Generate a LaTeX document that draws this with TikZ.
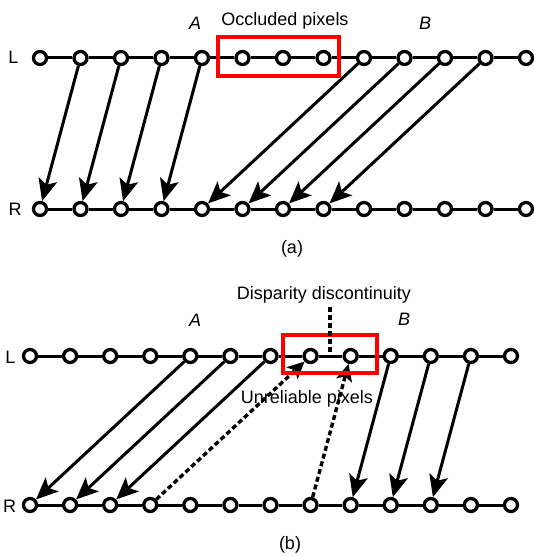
\documentclass[tikz,border=0pt]{standalone}
\usepackage{fontspec}
\setmainfont{Liberation Sans}
\usetikzlibrary{arrows.meta}
\begin{document}
\begin{tikzpicture}[x=1pt,y=-1pt,
  pix/.style={circle,draw,line width=3.3pt,fill=white,minimum size=13pt,inner sep=0pt},
  link/.style={line width=3pt},
  map/.style={line width=3pt,-{Stealth[length=22pt,width=19pt,inset=5pt]}},
  unrel/.style={line width=3.4pt,dash pattern=on 5pt off 3pt,-{Stealth[length=17pt,width=16pt,inset=4pt]}},
  disc/.style={line width=3.4pt,dash pattern=on 5pt off 3pt},
  lbl/.style={font=\fontsize{18}{21}\selectfont,inner sep=0pt,anchor=base},
  box/.style={draw=red,line width=3.2pt}]
\useasboundingbox (0,0) rectangle (534,556);

% ---------- (a) ----------
\foreach \i in {0,...,12} {
  \node[pix] (aL\i) at ({40+40.5*\i},58) {};
  \node[pix] (aR\i) at ({40+40.5*\i},209) {};
}
\foreach \i [evaluate=\i as \j using int(\i+1)] in {0,...,11} {
  \draw[link] (aL\i) -- (aL\j);
  \draw[link] (aR\i) -- (aR\j);
}
% region A: disparity of one pixel
\foreach \i [evaluate=\i as \j using int(\i-1)] in {1,...,4}
  \draw[map] (aL\i) -- (aR\j);
% region B: disparity of four pixels
\foreach \i [evaluate=\i as \j using int(\i-4)] in {8,...,11}
  \draw[map] (aL\i) -- (aR\j);

\draw[box] (218,37) rectangle (339,76);

\node[lbl] (aLlab) at (13.5,64) {L};
\node[lbl] (aRlab) at (15,215) {R};
\node[lbl] (aA) at (195,30) {\textit{A}};
\node[lbl] (aB) at (425,30) {\textit{B}};
\node[lbl] (occ) at (285,25.5) {Occluded pixels};
\node[lbl] (capa) at (292,253) {(a)};

% ---------- (b) ----------
\foreach \i in {0,...,12} {
  \node[pix] (bL\i) at ({30+40.08*\i},356) {};
  \node[pix] (bR\i) at ({30+40.08*\i},505) {};
}
\foreach \i [evaluate=\i as \j using int(\i+1)] in {0,...,11} {
  \draw[link] (bL\i) -- (bL\j);
  \draw[link] (bR\i) -- (bR\j);
}
% region A: disparity of four pixels
\foreach \i [evaluate=\i as \j using int(\i-4)] in {4,...,6}
  \draw[map] (bL\i) -- (bR\j);
% region B: disparity of one pixel
\foreach \i [evaluate=\i as \j using int(\i-1)] in {9,...,11}
  \draw[map] (bL\i) -- (bR\j);
% unreliable matches
\draw[unrel] (bR3) -- (bL7);
\draw[unrel] (bR7) -- (bL8);

\draw[box] (283,335) rectangle (377,373);

\coordinate (dtop) at (330,307);
\coordinate (dbot) at (330,352);
\draw[disc] (dtop) -- (dbot);

\node[lbl] (bLlab) at (10.5,363) {L};
\node[lbl] (bRlab) at (9.5,512) {R};
\node[lbl] (bA) at (195,326) {\textit{A}};
\node[lbl] (bB) at (404,325) {\textit{B}};
\node[lbl] (disp) at (324,299) {Disparity discontinuity};
\node[lbl] (unr) at (307,403) {Unreliable pixels};
\node[lbl] (capb) at (290,549) {(b)};
\end{tikzpicture}
\end{document}
